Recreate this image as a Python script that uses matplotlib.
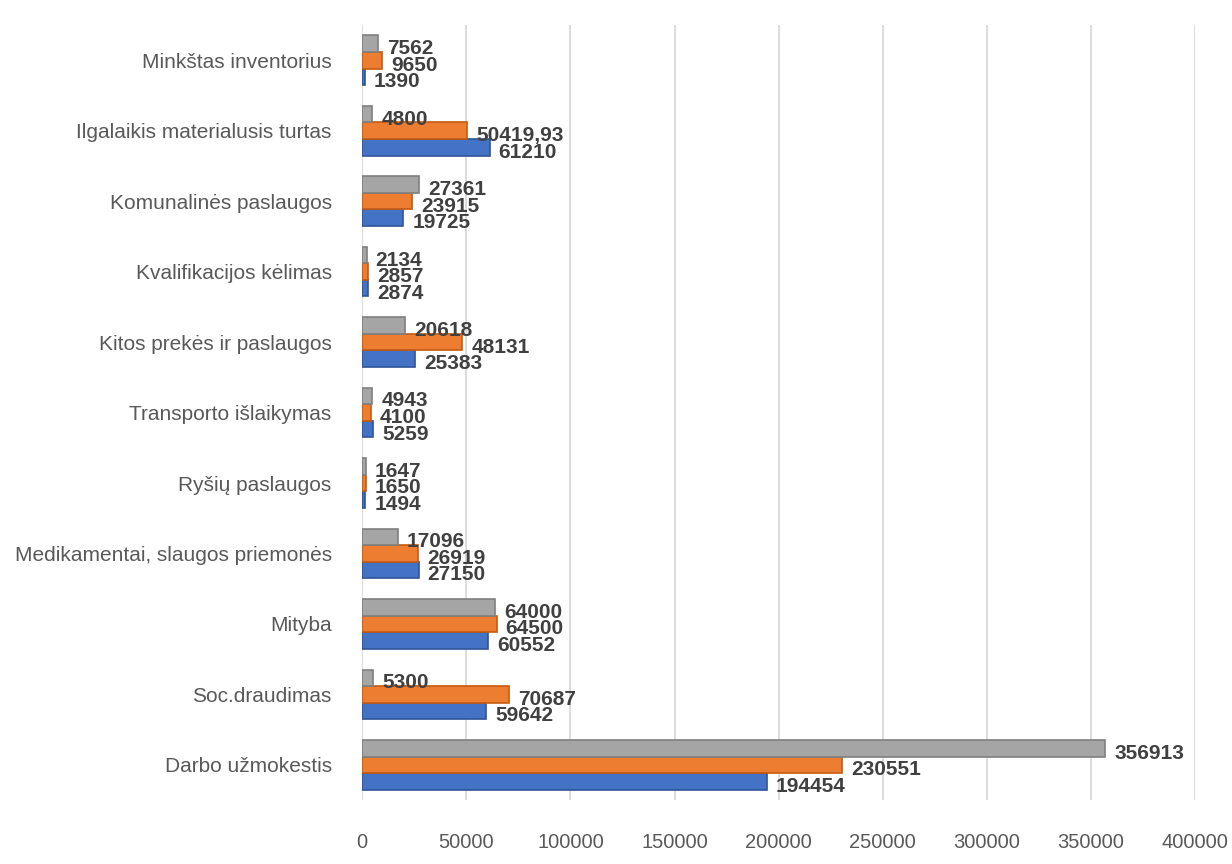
import matplotlib.pyplot as plt
import numpy as np
from matplotlib import font_manager

categories = [
    "Darbo užmokestis",
    "Soc.draudimas",
    "Mityba",
    "Medikamentai, slaugos priemonės",
    "Ryšių paslaugos",
    "Transporto išlaikymas",
    "Kitos prekės ir paslaugos",
    "Kvalifikacijos kėlimas",
    "Komunalinės paslaugos",
    "Ilgalaikis materialusis turtas",
    "Minkštas inventorius",
]
blue_values = [194454, 59642, 60552, 27150, 1494, 5259, 25383, 2874, 19725, 61210, 1390]
orange_values = [230551, 70687, 64500, 26919, 1650, 4100, 48131, 2857, 23915, 50419.93, 9650]
gray_values = [356913, 5300, 64000, 17096, 1647, 4943, 20618, 2134, 27361, 4800, 7562]
blue_labels = ["194454", "59642", "60552", "27150", "1494", "5259", "25383", "2874", "19725", "61210", "1390"]
orange_labels = ["230551", "70687", "64500", "26919", "1650", "4100", "48131", "2857", "23915", "50419,93", "9650"]
gray_labels = ["356913", "5300", "64000", "17096", "1647", "4943", "20618", "2134", "27361", "4800", "7562"]

names = {f.name for f in font_manager.fontManager.ttflist}
family = ["Liberation Sans Narrow"] if "Liberation Sans Narrow" in names else ["Liberation Sans"]
plt.rcParams["font.family"] = family + ["DejaVu Sans"]

fig = plt.figure(figsize=(12.32, 8.64), dpi=100)
ax = fig.add_axes([0.294, 0.074, 0.676, 0.897])

y = np.arange(len(categories))
h = 0.235
series = [
    (blue_values, blue_labels, -h, "#4472C4", "#2F5597"),
    (orange_values, orange_labels, 0.0, "#ED7D31", "#C55A11"),
    (gray_values, gray_labels, h, "#A5A5A5", "#7F7F7F"),
]
for values, labels, off, color, edge in series:
    ax.barh(y + off, values, height=h, color=color, edgecolor=edge, linewidth=1.2, zorder=3)
    for yi, v, lab in zip(y, values, labels):
        ax.text(v + 4300, yi + off - 0.07, lab, va="center", ha="left",
                fontsize=15, fontweight="bold", color="#404040", zorder=4)

ax.set_xlim(0, 400000)
ax.set_ylim(-0.5, len(categories) - 0.5)
ax.set_xticks(np.arange(0, 400001, 50000))
ax.set_xticklabels([str(v) for v in range(0, 400001, 50000)])
ax.set_yticks(y)
ax.set_yticklabels(categories)
ax.tick_params(axis="x", length=0, pad=24, labelsize=14.5, labelcolor="#595959")
ax.tick_params(axis="y", length=0, pad=22, labelsize=15, labelcolor="#595959")
ax.grid(axis="x", color="#D9D9D9", linewidth=1.3, zorder=0)
for spine in ax.spines.values():
    spine.set_visible(False)

fig.savefig("out.png", dpi=100)
